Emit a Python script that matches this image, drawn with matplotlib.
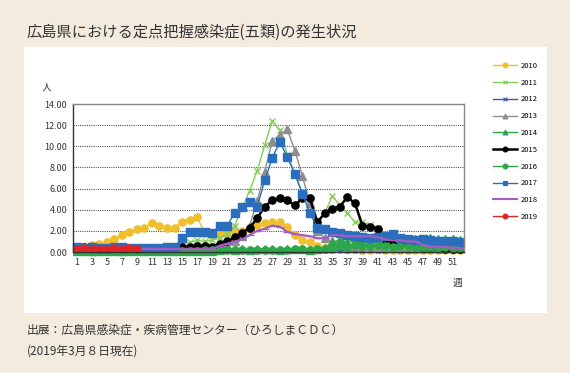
import matplotlib
matplotlib.use("Agg")
import matplotlib.pyplot as plt
from matplotlib.patches import Rectangle
from matplotlib.lines import Line2D

plt.rcParams['font.family'] = ['Noto Sans CJK JP', 'DejaVu Sans']

weeks = list(range(1, 53))

y2010 = [0.3, 0.3, 0.65, 0.8, 0.9, 1.2, 1.6, 1.9, 2.2, 2.3, 2.7, 2.5, 2.3, 2.3, 2.8, 3.0, 3.3, 1.8,
         1.7, 1.7, 1.8, 1.9, 2.0, 2.2, 2.6, 2.7, 2.8, 2.8, 2.4, 1.6, 1.1, 0.9, 0.6, 0.4, 0.3, 0.3,
         0.3, 0.3, 0.2, 0.2, 0.3, 0.2, 0.2, 0.2, 0.2, 0.2, 0.2, 0.2, 0.2, 0.2, 0.2, 0.2]
y2011 = [0.2, 0.2, 0.1, 0.2, 0.2, 0.1, 0.2, 0.2, 0.1, 0.2, 0.2, 0.3, 0.3, 0.3, 0.8, 0.9, 1.1, 1.0,
         1.1, 1.3, 1.7, 2.5, 4.2, 5.8, 7.7, 10.1, 12.4, 11.5, 9.2, 7.4, 5.6, 4.4, 2.9, 3.7, 5.3, 4.4,
         3.7, 2.8, 2.8, 2.6, 2.3, 1.5, 1.2, 1.0, 0.9, 0.8, 0.7, 0.6, 0.6, 0.5, 0.5, 0.5]
y2012 = [0.05, 0.05, 0.05, 0.05, 0.05, 0.05, 0.05, 0.05, 0.05, 0.05, 0.05, 0.05, 0.05, 0.05, 0.05,
         0.05, 0.05, 0.05, 0.05, 0.05, 0.05, 0.05, 0.05, 0.05, 0.05, 0.05, 0.05, 0.05, 0.05, 0.05,
         0.05, 0.05, 0.05, 0.05, 0.1, 0.15, 0.1, 0.1, 0.1, 0.15, 0.1, 0.1, 0.15, 0.1, 0.1, 0.15,
         0.1, 0.1, 0.1, 0.15, 0.1, 0.1]
y2013 = [0.2, 0.2, 0.1, 0.2, 0.2, 0.2, 0.1, 0.2, 0.2, 0.2, 0.2, 0.2, 0.2, 0.2, 0.2, 0.3, 0.3, 0.3,
         0.3, 0.4, 0.7, 1.0, 1.5, 2.5, 4.8, 7.6, 10.5, 11.1, 11.6, 9.6, 7.2, 4.6, 2.0, 1.3, 1.0, 0.8,
         0.7, 0.6, 0.6, 0.6, 0.5, 0.5, 0.5, 0.5, 0.4, 0.4, 0.4, 0.4, 0.4, 0.4, 0.4, 0.4]
y2014 = [0.1, 0.1, 0.1, 0.1, 0.1, 0.1, 0.1, 0.1, 0.1, 0.1, 0.1, 0.1, 0.1, 0.1, 0.1, 0.1, 0.1, 0.1,
         0.1, 0.2, 0.3, 0.2, 0.3, 0.2, 0.3, 0.3, 0.3, 0.2, 0.3, 0.3, 0.3, 0.2, 0.3, 0.4, 0.9, 1.2,
         0.9, 1.3, 1.0, 1.0, 0.9, 1.1, 1.0, 0.9, 1.1, 1.2, 1.2, 1.3, 1.2, 1.2, 1.2, 1.1]
y2015 = [0.2, 0.5, 0.2, 0.2, 0.3, 0.5, 0.2, 0.2, 0.2, 0.2, 0.2, 0.2, 0.2, 0.2, 0.5, 0.5, 0.6, 0.6,
         0.5, 0.8, 1.0, 1.4, 1.8, 2.3, 3.2, 4.3, 4.9, 5.1, 4.9, 4.4, 5.1, 5.1, 2.8, 3.7, 4.1, 4.3,
         5.2, 4.6, 2.5, 2.4, 2.2, 1.2, 1.0, 0.9, 0.8, 0.7, 0.5, 0.5, 0.4, 0.3, 0.3, 0.3]
y2016 = [0.1, 0.1, 0.1, 0.1, 0.1, 0.1, 0.1, 0.1, 0.1, 0.1, 0.1, 0.1, 0.1, 0.1, 0.1, 0.1, 0.1, 0.2,
         0.2, 0.2, 0.2, 0.2, 0.2, 0.2, 0.2, 0.2, 0.2, 0.2, 0.2, 0.3, 0.3, 0.2, 0.3, 0.3, 0.4, 0.6,
         0.5, 0.7, 0.6, 0.6, 0.7, 0.6, 0.5, 0.6, 0.6, 0.5, 0.5, 0.5, 0.4, 0.5, 0.4, 0.4]
y2017 = [0.5, 0.4, 0.5, 0.4, 0.4, 0.5, 0.5, 0.4, 0.4, 0.4, 0.4, 0.4, 0.5, 0.5, 1.3, 1.9, 1.9, 1.9,
         1.8, 2.5, 2.5, 3.7, 4.3, 4.7, 4.3, 6.8, 8.9, 10.4, 9.0, 7.4, 5.5, 3.7, 2.3, 2.2, 1.9, 1.8,
         1.6, 1.5, 1.4, 1.3, 1.4, 1.5, 1.7, 1.3, 1.2, 1.1, 1.2, 1.1, 1.0, 1.0, 1.0, 0.9]
y2018 = [0.3, 0.3, 0.2, 0.3, 0.3, 0.3, 0.2, 0.3, 0.3, 0.3, 0.3, 0.3, 0.3, 0.3, 0.3, 0.3, 0.3, 0.3,
         0.3, 0.6, 0.8, 1.0, 1.2, 1.6, 2.0, 2.2, 2.5, 2.4, 1.9, 1.7, 1.6, 1.5, 1.3, 1.3, 1.6, 1.6,
         1.5, 1.5, 1.5, 1.5, 1.4, 1.2, 1.1, 1.1, 1.0, 1.0, 0.7, 0.5, 0.5, 0.5, 0.4, 0.4]
y2019 = [0.3, 0.4, 0.3, 0.3, 0.3, 0.4, 0.3, 0.4, 0.3]

series = [
    ('2010', y2010, '#f0c02c', 'o', 1.0),
    ('2011', y2011, '#86cc5a', 'x', 1.0),
    ('2012', y2012, '#4454a8', 'x', 1.0),
    ('2013', y2013, '#8e8e8e', '^', 1.0),
    ('2014', y2014, '#2ca84a', '^', 1.0),
    ('2015', y2015, '#000000', 'o', 1.8),
    ('2016', y2016, '#2ca84a', 'o', 1.0),
    ('2017', y2017, '#2a6ebd', 's', 1.0),
    ('2018', y2018, '#a45cc0', '_', 1.5),
    ('2019', y2019, '#e02424', 'o', 1.0),
]

fig = plt.figure(figsize=(5.7, 3.73), dpi=100)
fig.patch.set_facecolor('#f4ebdf')
fig.patches.append(Rectangle((24 / 570, 60 / 373), 523 / 570, 266 / 373,
                             transform=fig.transFigure, facecolor='white', edgecolor='none',
                             zorder=-10))

ax = fig.add_axes([73 / 570, 121 / 373, 391 / 570, 148 / 373])
ax.set_zorder(2)
ax.set_facecolor('white')

handles = []
for name, vals, col, mk, lw in series:
    ms = 5.2 if mk != 'x' else 4.5
    if name == '2012':
        ms = 3
    ax.plot(weeks[:len(vals)], vals, color=col, marker=mk, markersize=ms, linewidth=lw,
            markeredgewidth=1.0, clip_on=False)
    handles.append(Line2D([0], [0], color=col, marker=mk, markersize=3.5, linewidth=lw,
                          markeredgewidth=0.8, label=name))

ax.set_xlim(0.5, 52.5)
ax.set_ylim(0, 14)
ax.set_yticks(range(0, 15, 2))
ax.set_yticklabels(['%.2f' % v for v in range(0, 15, 2)], fontsize=6.5, color='#333333')
ax.set_xticks(range(1, 52, 2))
ax.set_xticklabels([str(w) for w in range(1, 52, 2)], fontsize=6.5, color='#333333')
ax.tick_params(length=0, pad=4)
ax.yaxis.grid(True, linestyle=(0, (1, 1)), color='#555555', linewidth=0.8)
ax.set_axisbelow(True)
for sp in ax.spines.values():
    sp.set_color('#888888')
    sp.set_linewidth(1.0)
ax.spines['left'].set_color('#333333')
ax.spines['bottom'].set_color('#333333')

fig.text(46 / 570, 1 - 87 / 373, '人', fontsize=7, ha='center', va='center', color='#333333')
fig.text(458 / 570, 1 - 283 / 373, '週', fontsize=7, ha='center', va='center', color='#333333')

fig.legend(handles=handles, loc='upper left', bbox_to_anchor=(486 / 570, 1 - 55 / 373),
           frameon=False, fontsize=5.5, handlelength=3.2, handletextpad=0.4, labelspacing=1.15)

fig.text(27 / 570, 1 - 32 / 373, '広島県における定点把握感染症(五類)の発生状況', fontsize=11,
         ha='left', va='center', color='#333333')
fig.text(27 / 570, 1 - 330 / 373, '出展：広島県感染症・疾病管理センター（ひろしまＣＤＣ）', fontsize=8.5,
         ha='left', va='center', color='#333333')
fig.text(27 / 570, 1 - 351 / 373, '(2019年3月８日現在)', fontsize=8.5,
         ha='left', va='center', color='#333333')

fig.savefig('out.png', dpi=100, facecolor=fig.get_facecolor())
